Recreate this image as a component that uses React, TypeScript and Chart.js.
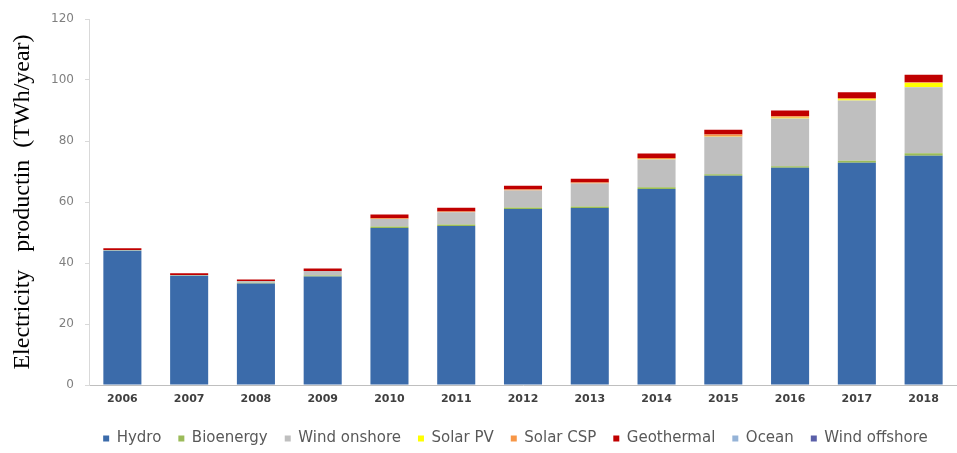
import React, { useEffect, useRef } from "react";
import { Chart, registerables } from "chart.js";

Chart.register(...registerables);

const years = ["2006", "2007", "2008", "2009", "2010", "2011", "2012", "2013", "2014", "2015", "2016", "2017", "2018"];
const hydro = [44.0, 35.8, 33.3, 35.6, 51.5, 52.1, 57.7, 58.0, 64.3, 68.6, 71.2, 72.9, 75.2];
const bioenergy = [0.1, 0.1, 0.2, 0.3, 0.5, 0.5, 0.5, 0.5, 0.5, 0.5, 0.5, 0.6, 0.8];
const windOnshore = [0.2, 0.2, 0.6, 1.5, 2.4, 4.0, 5.6, 7.6, 9.1, 12.3, 15.7, 19.8, 21.6];
const solarPV = [0, 0, 0, 0, 0, 0, 0, 0, 0.1, 0.1, 0.2, 0.4, 1.4];
const solarCSP = [0, 0, 0, 0, 0.3, 0.3, 0.3, 0.3, 0.4, 0.6, 0.5, 0.4, 0.3];
const geothermal = [0.5, 0.5, 0.5, 0.8, 1.2, 1.2, 1.2, 1.2, 1.5, 1.6, 1.9, 1.9, 2.4];
const ocean = [0, 0, 0, 0, 0, 0, 0, 0, 0, 0, 0, 0, 0];
const windOffshore = [0, 0, 0, 0, 0, 0, 0, 0, 0, 0, 0, 0, 0];

const yTicks = [0, 20, 40, 60, 80, 100, 120];

const legendShift = { dx: 37, dy: 5 };

const legendShiftPlugin = {
  id: "legendShift",
  afterLayout(chart: any) {
    const lg = chart.legend;
    if (!lg) return;
    lg.left += legendShift.dx;
    lg.right += legendShift.dx;
    lg.top += legendShift.dy;
    lg.bottom += legendShift.dy;
  },
};

export default function App() {
  const ref = useRef<HTMLCanvasElement | null>(null);

  useEffect(() => {
    if (!ref.current) return;
    const mk = (label: string, data: number[], color: string) => ({
      label,
      data,
      backgroundColor: color,
      borderWidth: 0,
      barPercentage: 0.57,
      categoryPercentage: 1,
    });
    const chart = new Chart(ref.current, {
      type: "bar",
      data: {
        labels: years,
        datasets: [
          mk("Hydro", hydro, "#3B6BAA"),
          mk("Bioenergy", bioenergy, "#9BBB59"),
          mk("Wind onshore", windOnshore, "#BFBFBF"),
          mk("Solar PV", solarPV, "#FFFF00"),
          mk("Solar CSP", solarCSP, "#F79646"),
          mk("Geothermal", geothermal, "#C00000"),
          mk("Ocean", ocean, "#95B3D7"),
          mk("Wind offshore", windOffshore, "#5A5FA8"),
        ],
      },
      options: {
        responsive: false,
        animation: false,
        layout: { padding: { top: 19, right: 0, bottom: 2, left: 0 } },
        plugins: {
          tooltip: { enabled: false },
          legend: {
            position: "bottom",
            labels: {
              boxWidth: 6,
              boxHeight: 6,
              padding: 17,
              color: "#595959",
              font: { family: "DejaVu Sans", size: 15 },
            },
          },
        },
        scales: {
          x: {
            stacked: true,
            grid: { display: false, drawTicks: false },
            border: { display: true, color: "#BFBFBF", width: 1 },
            ticks: {
              color: "#404040",
              padding: 8,
              font: { family: "DejaVu Sans", size: 11, weight: "bold" },
              maxRotation: 0,
            },
            afterFit: (s: any) => {
              s.height = 24;
            },
          },
          y: {
            stacked: true,
            min: 0,
            max: 120,
            afterBuildTicks: (s: any) => {
              s.ticks = yTicks.map((v) => ({ value: v }));
            },
            grid: { drawOnChartArea: false, drawTicks: true, tickLength: 4, color: "#D9D9D9" },
            border: { display: true, color: "#D9D9D9", width: 1 },
            ticks: {
              color: "#7F7F7F",
              padding: 11,
              font: { family: "DejaVu Sans", size: 12 },
            },
            title: {
              display: true,
              text: "Electricity   productin  (TWh/year)",
              color: "#000000",
              font: { family: "Liberation Serif", size: 24, lineHeight: 1.2 },
              padding: { top: 8, bottom: 0 },
            },
            afterFit: (s: any) => {
              s.width = 89;
            },
          },
        },
      },
      plugins: [legendShiftPlugin],
    });
    return () => chart.destroy();
  }, []);

  return (
    <div style={{ position: "absolute", left: 0, top: 0, width: 957, height: 453, background: "#fff" }}>
      <canvas ref={ref} width={957} height={453} style={{ width: 957, height: 453 }} />
    </div>
  );
}
